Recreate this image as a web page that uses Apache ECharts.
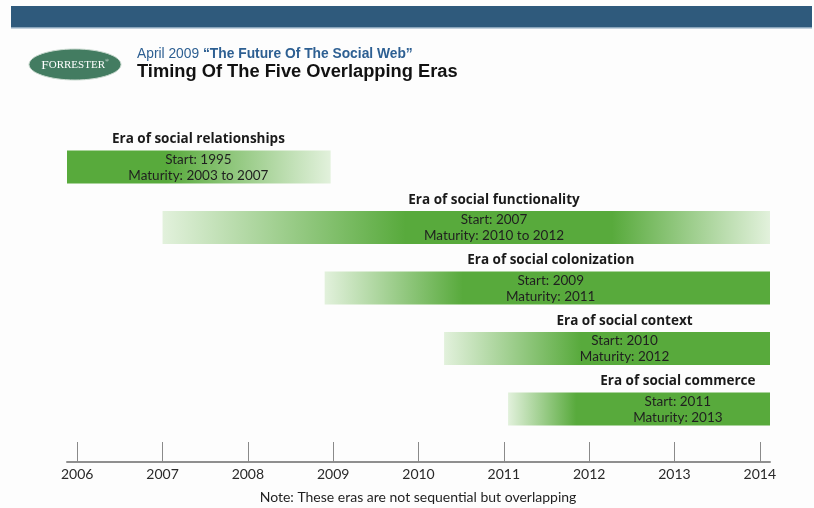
<!DOCTYPE html>
<html>
<head>
<meta charset="utf-8">
<script src="https://cdn.jsdelivr.net/npm/echarts@6/dist/echarts.min.js"></script>
<style>
html,body{margin:0;padding:0;background:#fdfdfd;}
#chart{width:814px;height:508px;}
</style>
</head>
<body>
<div id="chart"></div>
<script>
// ---- data ----
var eras = ['Era of social relationships', 'Era of social functionality', 'Era of social colonization', 'Era of social context', 'Era of social commerce'];
var startYears = [2005.88, 2007.0, 2008.9, 2010.3, 2011.05];
var endYears = [2008.97, 2014.12, 2014.12, 2014.12, 2014.12];
var startTexts = ['Start: 1995', 'Start: 2007', 'Start: 2009', 'Start: 2010', 'Start: 2011'];
var maturityTexts = ['Maturity: 2003 to 2007', 'Maturity: 2010 to 2012', 'Maturity: 2011', 'Maturity: 2012', 'Maturity: 2013'];
var labelYears = [2007.42, 2010.885, 2011.55, 2012.415, 2013.04];
var tickYears = [2006, 2007, 2008, 2009, 2010, 2011, 2012, 2013, 2014];
var subtitleDate = 'April 2009 ';
var subtitleReport = '\u201CThe Future Of The Social Web\u201D';
var titleText = 'Timing Of The Five Overlapping Eras';
var noteText = 'Note: These eras are not sequential but overlapping';

// ---- styles ----
var DARK = 'rgb(88,170,60)';
var LIGHT = 'rgb(226,241,220)';
var gradientStops = [
  [[0, DARK], [0.38, DARK], [1, LIGHT]],
  [[0, LIGHT], [0.4, DARK], [0.74, DARK], [1, LIGHT]],
  [[0, LIGHT], [0.31, DARK], [1, DARK]],
  [[0, LIGHT], [0.42, DARK], [1, DARK]],
  [[0, LIGHT], [0.26, DARK], [1, DARK]]
];

var data = eras.map(function (e, i) {
  return [startYears[i], endYears[i], i, labelYears[i]];
});

var chart = echarts.init(document.getElementById('chart'), null, {renderer: 'canvas'});
var txtFont = 'Lato, "Open Sans", sans-serif';
var boldFont = '"Open Sans", Lato, sans-serif';

chart.setOption({
  backgroundColor: '#fdfdfd',
  animation: false,
  grid: {left: 67, right: 44, top: 136.85, height: 302.5},
  xAxis: {
    type: 'value',
    min: 2005.88,
    max: 2014.12,
    offset: 22.65,
    splitLine: {show: false},
    axisLine: {show: true, lineStyle: {color: '#8f8f8f', width: 2}},
    axisTick: {show: true, inside: true, length: 20, customValues: tickYears, lineStyle: {color: '#8a8a8a', width: 1}},
    axisLabel: {
      customValues: tickYears,
      formatter: function (v) { return String(Math.round(v)); },
      color: '#2a2a2a', fontFamily: txtFont, fontSize: 14, margin: 5
    }
  },
  yAxis: {
    type: 'category',
    inverse: true,
    data: eras,
    show: false
  },
  series: [{
    type: 'custom',
    clip: false,
    data: data,
    encode: {x: [0, 1, 3], y: 2},
    renderItem: function (params, api) {
      var i = api.value(2);
      var p0 = api.coord([api.value(0), i]);
      var p1 = api.coord([api.value(1), i]);
      var pl = api.coord([api.value(3), i]);
      var h = 33;
      var top = p0[1] - h / 2;
      var stops = gradientStops[params.dataIndex].map(function (s) { return {offset: s[0], color: s[1]}; });
      return {
        type: 'group',
        children: [
          {
            type: 'rect',
            shape: {x: p0[0], y: top, width: p1[0] - p0[0], height: h},
            style: {fill: new echarts.graphic.LinearGradient(0, 0, 1, 0, stops)}
          },
          {
            type: 'text',
            x: pl[0], y: top - 11,
            style: {
              text: eras[params.dataIndex],
              fill: '#1a1a1a', font: 'bold 13.5px ' + boldFont,
              align: 'center', verticalAlign: 'middle'
            }
          },
          {
            type: 'text',
            x: pl[0], y: p0[1] - 7.5,
            style: {
              text: startTexts[params.dataIndex],
              fill: '#1f1f1f', font: '13.5px ' + txtFont,
              align: 'center', verticalAlign: 'middle'
            }
          },
          {
            type: 'text',
            x: pl[0], y: p0[1] + 8.5,
            style: {
              text: maturityTexts[params.dataIndex],
              fill: '#1f1f1f', font: '13.5px ' + txtFont,
              align: 'center', verticalAlign: 'middle'
            }
          }
        ]
      };
    }
  }],
  graphic: [
    {type: 'rect', shape: {x: 11, y: 6, width: 801, height: 21}, style: {fill: '#2f5a7c'}},
    {type: 'rect', shape: {x: 11, y: 27, width: 801, height: 1.5}, style: {fill: '#8aa5bb'}},
    {type: 'ellipse', shape: {cx: 75, cy: 64.5, rx: 46, ry: 15.5}, style: {fill: '#437c61', stroke: '#c9d9cf', lineWidth: 1}},
    {
      type: 'text', x: 75, y: 65,
      style: {
        text: '{a|F}{b|ORRESTER}{c|®}',
        align: 'center', verticalAlign: 'middle',
        rich: {
          a: {fontFamily: '"Liberation Serif", serif', fontSize: 13.5, fill: '#ffffff', color: '#ffffff'},
          b: {fontFamily: '"Liberation Serif", serif', fontSize: 11, fill: '#ffffff', color: '#ffffff'},
          c: {fontFamily: '"Liberation Serif", serif', fontSize: 5, fill: '#ffffff', color: '#ffffff', verticalAlign: 'top'}
        }
      }
    },
    {
      type: 'text', x: 137, y: 54,
      style: {
        text: '{a|' + subtitleDate + '}{b|' + subtitleReport + '}',
        verticalAlign: 'middle',
        rich: {
          a: {fontFamily: '"Liberation Sans", Arial, sans-serif', fontSize: 13.8, fill: '#2d5f92', color: '#2d5f92'},
          b: {fontFamily: '"Liberation Sans", Arial, sans-serif', fontSize: 13.8, fontWeight: 'bold', fill: '#2d5f92', color: '#2d5f92'}
        }
      }
    },
    {
      type: 'text', x: 137, y: 72,
      style: {
        text: titleText, fill: '#111111',
        font: 'bold 18.3px "Liberation Sans", Arial, sans-serif',
        verticalAlign: 'middle'
      }
    },
    {
      type: 'text', x: 418, y: 497,
      style: {
        text: noteText, fill: '#1f1f1f',
        font: '14px ' + txtFont,
        align: 'center', verticalAlign: 'middle'
      }
    }
  ]
});
</script>
</body>
</html>
